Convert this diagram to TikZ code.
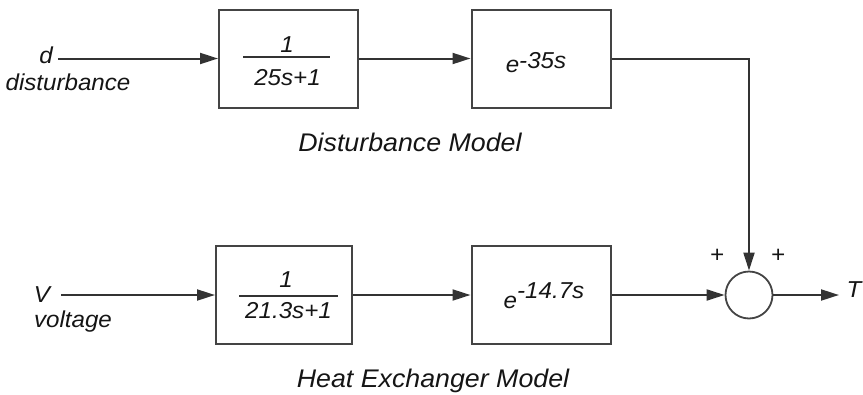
\documentclass[tikz,border=0pt]{standalone}
\usepackage{fontspec}
\setmainfont{Liberation Sans}[FakeStretch=1.05]
\usetikzlibrary{arrows.meta}
\definecolor{ln}{HTML}{333333}
\definecolor{bx}{HTML}{444444}
\definecolor{tx}{HTML}{151515}
\begin{document}
\begin{tikzpicture}[x=1pt,y=-1pt,
  blk/.style={draw=bx, line width=2pt, minimum width=139pt, minimum height=98pt, inner sep=0pt},
  lbl/.style={inner sep=0pt, text=tx, anchor=base, font=\fontsize{23}{27}\selectfont\itshape},
  mdl/.style={lbl, font=\fontsize{25.5}{30}\selectfont\itshape},
  con/.style={draw=ln, line width=2pt},
  arr/.style={con, -{Triangle[length=18pt,width=11pt]}},
  bar/.style={draw=ln, line width=1.8pt}]
\useasboundingbox (0,0) rectangle (863,394);
% blocks
\node[blk, minimum width=139pt] (g1) at (288.5,58.5) {};
\node[blk] (d1) at (541,58.5) {};
\node[blk, minimum width=136pt] (g2) at (284,295) {};
\node[blk] (d2) at (541,295) {};
\node[circle, draw=bx, line width=1.8pt, minimum size=47pt, inner sep=0pt] (sum) at (749,295) {};
% free ends
\coordinate (din) at (58,58.5);
\coordinate (vin) at (61,295);
\coordinate (tout) at (839,295);
% connectors
\draw[arr] (din) -- (g1.west);
\draw[arr] (g1.east) -- (d1.west);
\draw[arr] (d1.east) -| (sum.north);
\draw[arr] (vin) -- (g2.west);
\draw[arr] (g2.east) -- (d2.west);
\draw[arr] (d2.east) -- (sum.west);
\draw[arr] (sum.east) -- (tout);
% input / output labels
\node[lbl] (dl) at (46,63) {d};
\node[lbl] (dist) at (68,90) {disturbance};
\node[lbl] (vl) at (42,302) {V};
\node[lbl] (volt) at (73,327) {voltage};
\node[lbl] (tl) at (854,297) {T};
\node[lbl] (p1) at (717,262.5) {+};
\node[lbl] (p2) at (778,262.5) {+};
% fractions
\node[lbl] (n1) at (287,52) {1};
\draw[bar] (243,57) -- (330,57);
\node[lbl] (m1) at (287.5,85) {25s+1};
\node[lbl] (n2) at (286,287) {1};
\draw[bar] (239,296) -- (338,296);
\node[lbl] (m2) at (288.5,318) {21.3s+1};
% delays
\node[lbl] (e1) at (536,72) {e\raisebox{4pt}{-35s}};
\node[lbl] (e2) at (544,308) {e\raisebox{10pt}{-14.7s}};
% model captions
\node[mdl] (cap1) at (410,151) {Disturbance Model};
\node[mdl] (cap2) at (433,387) {Heat Exchanger Model};
\end{tikzpicture}
\end{document}
